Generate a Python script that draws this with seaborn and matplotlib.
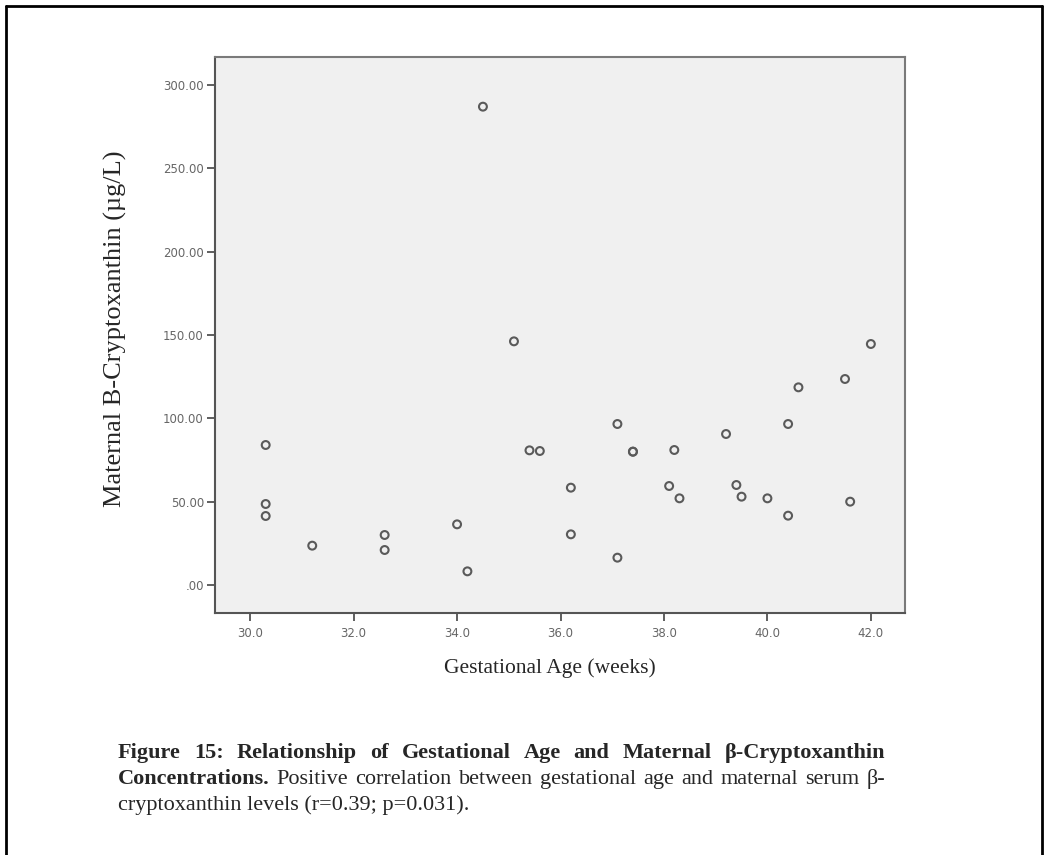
import matplotlib
matplotlib.use("Agg")
from matplotlib import pyplot as plt
from matplotlib.lines import Line2D
import seaborn as sns
import pandas as pd

# values
gest_age = [30.3, 30.3, 30.3, 31.2, 32.6, 32.6, 34.0, 34.2, 34.5, 35.1,
            35.4, 35.6, 36.2, 36.2, 37.1, 37.1, 37.4, 37.4, 38.1, 38.2,
            38.3, 39.2, 39.4, 39.5, 40.0, 40.4, 40.4, 40.6, 41.5, 41.6, 42.0]
cryptox = [84.0, 48.6, 41.4, 23.6, 30.0, 21.0, 36.4, 8.2, 287.0, 146.2,
           80.8, 80.4, 58.4, 30.4, 96.6, 16.4, 80.0, 80.0, 59.4, 81.0,
           52.0, 90.6, 60.0, 53.0, 52.0, 96.6, 41.6, 118.6, 123.6, 50.0, 144.6]
x_ticks = [30, 32, 34, 36, 38, 40, 42]
y_ticks = [0, 50, 100, 150, 200, 250, 300]

x_label = "Gestational Age (weeks)"
y_label = "Maternal B-Cryptoxanthin (\u00b5g/L)"
cap_line_1 = "Figure 15: Relationship of Gestational Age and Maternal \u03b2-Cryptoxanthin"
cap_bold_2 = "Concentrations."
cap_rest_2 = "Positive correlation between gestational age and maternal serum \u03b2-"
cap_line_3 = "cryptoxanthin levels (r=0.39; p=0.031)."

df = pd.DataFrame({"age": gest_age, "bcx": cryptox})

sns.set_style("white")
serif = ["Liberation Serif", "DejaVu Serif"]
W, H = 1044, 855
CAP = 16

fig = plt.figure(figsize=(W / 100, H / 100), dpi=100)
ax = fig.add_axes([215 / W, 1 - 613 / H, 690 / W, 556 / H])
ax.set_facecolor("#f0f0f0")

sns.scatterplot(data=df, x="age", y="bcx", ax=ax, marker="o", s=32,
                facecolors="none", edgecolor="#5a5a5a", linewidth=1.5)

ax.set_xlim(29.32, 42.66)
ax.set_ylim(-16.8, 316.8)
ax.set_xticks(x_ticks)
ax.set_xticklabels([f"{t:.1f}" for t in x_ticks])
ax.set_yticks(y_ticks)
ax.set_yticklabels([".00" if t == 0 else f"{t:.2f}" for t in y_ticks])
ax.tick_params(axis="both", direction="out", length=6, width=1.2, color="#444",
               labelsize=8.5, labelcolor="#666", pad=2, bottom=True, left=True)
ax.tick_params(axis="x", pad=4)
for lab in ax.get_xticklabels() + ax.get_yticklabels():
    lab.set_family(["DejaVu Sans"])

for side in ["left", "bottom"]:
    ax.spines[side].set_color("#555555")
    ax.spines[side].set_linewidth(1.5)
for side in ["top", "right"]:
    ax.spines[side].set_color("#7a7a7a")
    ax.spines[side].set_linewidth(1.5)

ax.set_xlabel("")
ax.set_ylabel("")
fig.text(550 / W, 1 - 668 / H, x_label, ha="center", va="center",
         fontsize=15.5, family=serif)
fig.text(115 / W, 1 - 329 / H, y_label, ha="center", va="center",
         rotation=90, fontsize=19, family=serif)


def justified_line(words, y_px, x0=118, x1=885, size=CAP):
    # words: list of (word, weight); spread them to fill x0..x1
    renderer = fig.canvas.get_renderer()
    items = [fig.text(0, 1 - y_px / H, w, ha="left", va="center", fontsize=size,
                      fontweight=wt, family=serif) for w, wt in words]
    widths = [t.get_window_extent(renderer).width for t in items]
    gap = (x1 - x0 - sum(widths)) / (len(items) - 1)
    x = x0
    for t, w in zip(items, widths):
        t.set_x(x / W)
        x += w + gap


fig.canvas.draw()
justified_line([(w, "bold") for w in cap_line_1.split(" ")], 753)
justified_line([(cap_bold_2, "bold")] + [(w, "normal") for w in cap_rest_2.split(" ")], 779)
fig.text(118 / W, 1 - 805 / H, cap_line_3, ha="left", va="center",
         fontsize=CAP, family=serif)

# page frame
frame = dict(color="black", linewidth=2, transform=fig.transFigure)
fig.add_artist(Line2D([6 / W, 1042 / W], [1 - 6 / H, 1 - 6 / H], **frame))
fig.add_artist(Line2D([6 / W, 6 / W], [1 - 6 / H, 0], **frame))
fig.add_artist(Line2D([1042 / W, 1042 / W], [1 - 6 / H, 0], **frame))

fig.savefig("out.png", dpi=100)
